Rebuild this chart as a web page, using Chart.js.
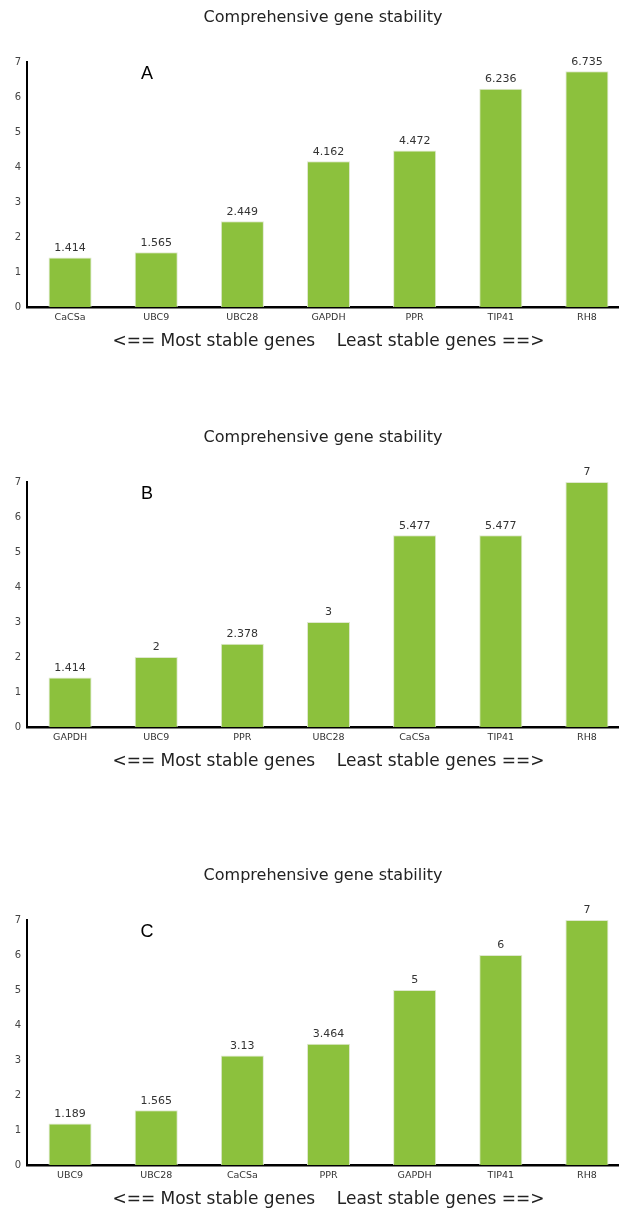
<!DOCTYPE html>
<html>
<head>
<meta charset="utf-8">
<script src="https://cdn.jsdelivr.net/npm/chart.js@4/dist/chart.umd.min.js"></script>
<style>
  body { margin: 0; background: #fff; overflow: hidden; width: 619px; height: 1211px; position: relative; }
  .panel { position: absolute; left: 0; }
</style>
</head>
<body>
<div class="panel" style="top:0px"><canvas id="chartA" width="646" height="356"></canvas></div>
<div class="panel" style="top:420px"><canvas id="chartB" width="646" height="356"></canvas></div>
<div class="panel" style="top:858px"><canvas id="chartC" width="646" height="356"></canvas></div>
<script>
// datos de cada panel
const genesA = ['CaCSa', 'UBC9', 'UBC28', 'GAPDH', 'PPR', 'TIP41', 'RH8'];
const valsA = [1.414, 1.565, 2.449, 4.162, 4.472, 6.236, 6.735];
const genesB = ['GAPDH', 'UBC9', 'PPR', 'UBC28', 'CaCSa', 'TIP41', 'RH8'];
const valsB = [1.414, 2, 2.378, 3, 5.477, 5.477, 7];
const genesC = ['UBC9', 'UBC28', 'CaCSa', 'PPR', 'GAPDH', 'TIP41', 'RH8'];
const valsC = [1.189, 1.565, 3.13, 3.464, 5, 6, 7];
const yTicks = [0, 1, 2, 3, 4, 5, 6, 7];

const tituloTxt = 'Comprehensive gene stability';
const ejeXTxt = '<== Most stable genes    Least stable genes ==>';
const verde = '#8cc13d';

// etiquetas de valor arriba de cada barra + letra del panel
const barLabels = {
    id: 'barLabels',
    afterDatasetsDraw(chart, args, opts) {
        const ctx = chart.ctx;
        const meta = chart.getDatasetMeta(0);
        ctx.save();
        ctx.font = '11px "DejaVu Sans"';
        ctx.fillStyle = '#333';
        ctx.textAlign = 'center';
        ctx.textBaseline = 'bottom';
        meta.data.forEach((bar, i) => {
            ctx.fillText(String(chart.data.datasets[0].data[i]), bar.x, bar.y - 4);
        });
        // letra A/B/C
        const area = chart.chartArea;
        ctx.font = '18px "Liberation Sans"';
        ctx.fillStyle = '#000';
        ctx.textAlign = 'center';
        ctx.textBaseline = 'middle';
        ctx.fillText(opts.letra, area.left + 120, area.top + 12);
        ctx.restore();
    }
};

function makeChart(id, labels, vals, letra) {
    const ctx = document.getElementById(id).getContext('2d');
    return new Chart(ctx, {
        type: 'bar',
        data: {
            labels: labels,
            datasets: [{
                data: vals,
                backgroundColor: verde,
                borderColor: '#dfe8d0',
                borderWidth: 1,
                barPercentage: 0.5,
                categoryPercentage: 1
            }]
        },
        options: {
            responsive: false,
            animation: false,
            layout: { padding: 0 },
            plugins: {
                legend: { display: false },
                tooltip: { enabled: false },
                title: {
                    display: true,
                    text: tituloTxt,
                    color: '#222',
                    font: { family: '"DejaVu Sans"', size: 16, weight: 'normal', lineHeight: 1.2 },
                    padding: { top: 8, bottom: 34.8 }
                },
                barLabels: { letra: letra }
            },
            scales: {
                x: {
                    grid: { display: false, drawTicks: false },
                    border: { display: true, color: '#000', width: 2.5 },
                    ticks: {
                        color: '#333',
                        font: { family: '"DejaVu Sans"', size: 9.5 },
                        padding: 5,
                        maxRotation: 0
                    },
                    title: {
                        display: true,
                        text: ejeXTxt,
                        color: '#222',
                        font: { family: '"DejaVu Sans"', size: 17, lineHeight: 1.2 },
                        padding: { top: 0, bottom: 4 }
                    },
                    afterFit: function(s) { s.height = 49; }
                },
                y: {
                    min: yTicks[0],
                    max: yTicks[yTicks.length - 1],
                    grid: { display: false, drawTicks: false },
                    border: { display: true, color: '#000', width: 2 },
                    afterBuildTicks: function(s) { s.ticks = yTicks.map(v => ({ value: v })); },
                    ticks: {
                        color: '#444',
                        font: { family: '"DejaVu Sans"', size: 10 },
                        padding: 6
                    },
                    afterFit: function(s) { s.width = 27; }
                },
                // eje vacio a la derecha, solo reserva espacio
                yR: {
                    position: 'right',
                    min: 0,
                    max: 7,
                    grid: { display: false, drawTicks: false },
                    border: { display: false },
                    ticks: { display: false },
                    afterFit: function(s) { s.width = 16; }
                }
            }
        },
        plugins: [barLabels]
    });
}

makeChart('chartA', genesA, valsA, 'A');
makeChart('chartB', genesB, valsB, 'B');
makeChart('chartC', genesC, valsC, 'C');
</script>
</body>
</html>
